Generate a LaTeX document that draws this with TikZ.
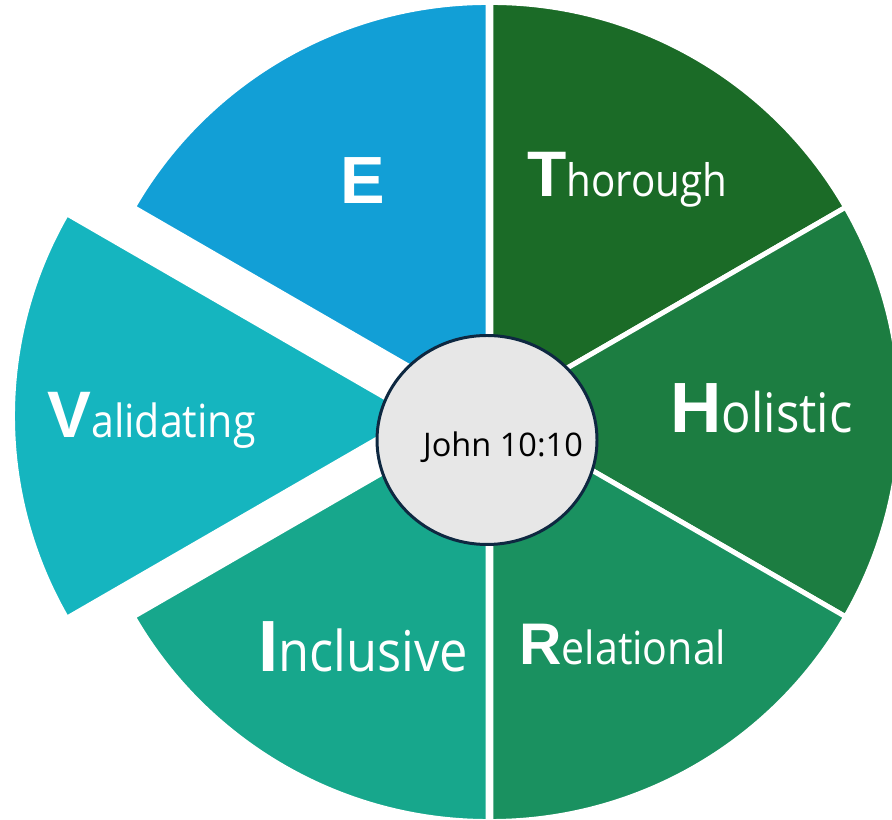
\documentclass[tikz,border=0pt]{standalone}
\usepackage{fontspec}
\setmainfont{Open Sans}
\newfontfamily\initfont{Liberation Sans}
\newfontfamily\wordfont[FakeStretch=0.9]{Open Sans}
\usepackage{tikz}
\usetikzlibrary{shapes.geometric}

\definecolor{eblue}{HTML}{129FD6}
\definecolor{tgreen}{HTML}{1B6B27}
\definecolor{hgreen}{HTML}{1C7D41}
\definecolor{rgreen}{HTML}{1A9160}
\definecolor{iteal}{HTML}{17A78C}
\definecolor{vteal}{HTML}{15B5BF}
\definecolor{coregray}{HTML}{E7E7E7}
\definecolor{corenavy}{HTML}{0E2841}
\newcommand{\wheelword}[4]{{\initfont\bfseries\fontsize{#3}{#3}\selectfont #1}{\wordfont\fontsize{#4}{#4}\selectfont #2}}

\begin{document}
\begin{tikzpicture}
    \tikzstyle{sector}=[draw=white, line width=2.8pt]
    \tikzstyle{word}=[text=white, inner sep=0pt, anchor=base west]
    \tikzstyle{core}=[ellipse, draw=corenavy, line width=1.7pt, fill=coregray, minimum width=4.4cm, minimum height=4.18cm]

    \useasboundingbox (0,0) rectangle (17.84,16.4);
    \clip (0,0) rectangle (17.84,16.4);

    % hubs
    \coordinate (hub) at (9.82,8.16);
    \coordinate (hubl) at (9.76,8.16);
    \coordinate (vhub) at (8.34,8.08);

    % sectors
    \filldraw[sector, fill=tgreen] (hub) -- ++(30:8.19) arc[start angle=30, end angle=90, radius=8.19] -- cycle;
    \filldraw[sector, fill=hgreen] (hub) -- ++(-30:8.19) arc[start angle=-30, end angle=30, radius=8.19] -- cycle;
    \filldraw[sector, fill=rgreen] (hub) -- ++(-90:8.19) arc[start angle=-90, end angle=-30, radius=8.19] -- cycle;
    \filldraw[sector, fill=eblue] (hubl) -- ++(90:8.19) arc[start angle=90, end angle=150, radius=8.19] -- cycle;
    \filldraw[sector, fill=iteal] (hubl) -- ++(-150:8.19) arc[start angle=-150, end angle=-90, radius=8.19] -- cycle;
    % pulled out sector
    \filldraw[sector, fill=vteal] (vhub) -- ++(150:8.09) arc[start angle=150, end angle=210, radius=8.09] -- cycle;

    % centre
    \node[core] (core) at (9.74,7.6) {};
    \node[inner sep=0pt, anchor=base, text=black] (verse) at (10.06,7.26) {\fontsize{18.5}{18.5}\selectfont John 10:10};

    % labels
    \node[text=white, inner sep=0pt] (eword) at (7.26,12.78) {\initfont\bfseries\fontsize{38}{38}\selectfont E};
    \node[word] (tword) at (10.54,12.46) {\wheelword{T}{horough}{36.6}{25.5}};
    \node[word] (hword) at (13.4,7.74) {\wheelword{H}{olistic}{40.5}{31}};
    \node[word] (rword) at (10.38,3.1) {\wheelword{R}{elational}{33.4}{26}};
    \node[word] (iword) at (5.16,2.96) {\wheelword{I}{nclusive}{41.3}{32}};
    \node[word] (vword) at (0.94,7.64) {\wheelword{V}{alidating}{37.4}{26}};

\end{tikzpicture}
\end{document}
